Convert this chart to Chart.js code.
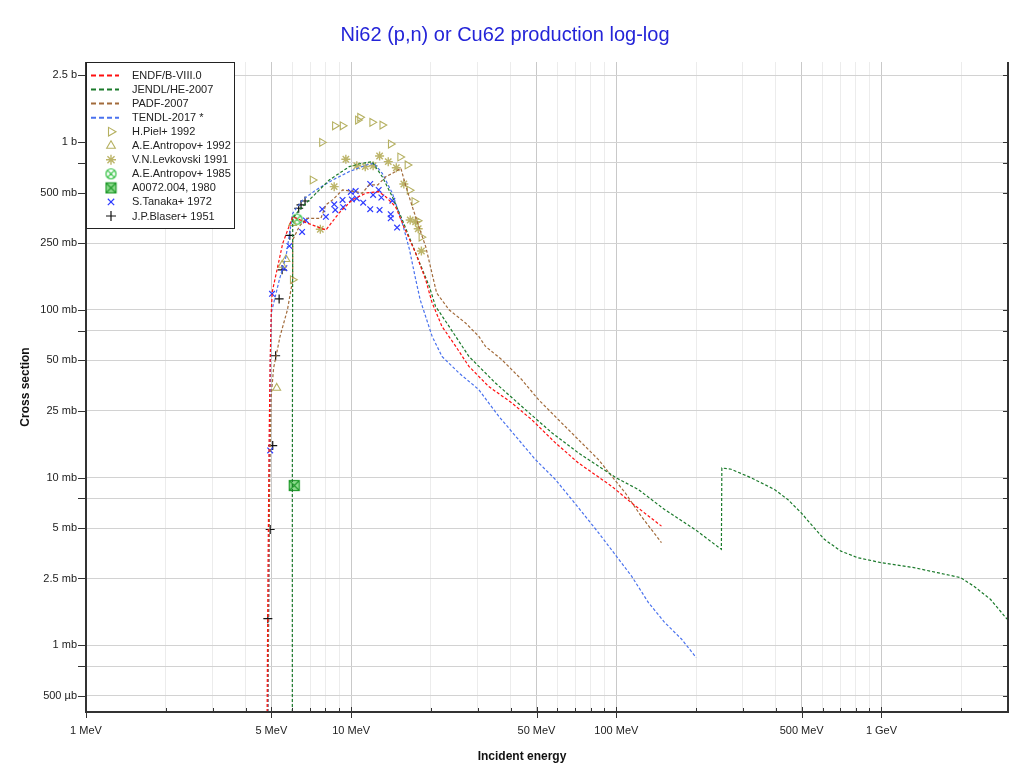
<!DOCTYPE html>
<html>
<head>
<meta charset="utf-8">
<script src="https://cdn.jsdelivr.net/npm/chart.js@4.4.0/dist/chart.umd.min.js"></script>
<style>
  html, body { margin: 0; padding: 0; background: #fff; }
  #wrap { width: 1020px; height: 773px; }
</style>
</head>
<body>
<div id="wrap"><canvas id="chart" width="1020" height="773"></canvas></div>
<script>
// axis ticks (energy in MeV, cross section in mb)
const xTickValues = [1, 2, 3, 4, 5, 6, 7, 8, 9, 10, 20, 30, 40, 50, 60, 70, 80, 90,
  100, 200, 300, 400, 500, 600, 700, 800, 900, 1000, 2000, 3000];
const xTickText = ['1 MeV', '', '', '', '5 MeV', '', '', '', '', '10 MeV', '', '', '', '50 MeV', '', '', '', '',
  '100 MeV', '', '', '', '500 MeV', '', '', '', '', '1 GeV', '', ''];
const yTickValues = [0.5, 0.75, 1, 2.5, 5, 7.5, 10, 25, 50, 75, 100, 250, 500, 750, 1000, 2500];
const yTickText = ['500 µb', '', '1 mb', '2.5 mb', '5 mb', '', '10 mb', '25 mb', '50 mb', '', '100 mb',
  '250 mb', '500 mb', '', '1 b', '2.5 b'];

// evaluated curves
const endfE = [4.82, 4.85, 4.9, 4.95, 5.0, 5.04, 5.52, 6.02, 6.85, 8.03, 9.01, 10.1, 11.4, 12.7, 13.5, 14.7,
  15.8, 17.5, 19.1, 20.2, 22.0, 24.8, 27.8, 33.0, 40.4, 48.0, 58.9, 72.0, 96.0, 114, 148];
const endfXs = [0.4, 2, 15, 50, 100, 128, 249, 359, 328, 299, 378, 452, 497, 506, 472, 412,
  313, 218, 151, 110, 79.6, 60.5, 46, 34.9, 27.8, 22.1, 16.1, 12.2, 8.87, 7.07, 5.13];

const jendlE = [6.0, 6.0, 6.02, 6.37, 7.14, 8.27, 9.83, 10.7, 12.0, 13.1, 14.3, 15.6, 17.5, 19.7, 20.8, 23.4,
  27.8, 35.0, 45.4, 57.1, 72.0, 93.3, 100, 121, 152, 198, 249, 250, 271, 323, 395, 443, 498, 543, 609,
  703, 812, 994, 1327, 1624, 1987, 2230, 2575, 2977];
const jendlXs = [0.4, 9, 350, 394, 471, 594, 713, 740, 764, 621, 472, 343, 218, 138, 105, 79.6,
  52.7, 36.6, 25.4, 18.5, 14.0, 10.7, 9.95, 8.48, 6.45, 4.90, 3.73, 11.4, 11.2, 9.95, 8.48, 7.40, 6.16, 5.25, 4.28,
  3.64, 3.33, 3.11, 2.90, 2.71, 2.53, 2.25, 1.88, 1.43];

const padfE = [4.85, 4.93, 4.99, 5.1, 5.4, 5.75, 6.02, 6.02, 6.37, 6.76, 7.69, 8.03, 8.51, 9.28, 10.4, 11.0,
  11.7, 12.6, 13.5, 14.3, 15.4, 16.1, 17.0, 18.0, 19.1, 19.9, 21.0, 23.4, 27.0, 30.3, 32.1, 37.0, 44.0,
  50.9, 60.5, 72.0, 85.6, 96.0, 108, 124, 148];
const padfXs = [0.4, 10, 30, 45, 70, 100, 151, 261, 313, 351, 351, 422, 452, 518, 506, 495,
  555, 555, 621, 651, 697, 542, 412, 313, 238, 181, 126, 100, 83.4, 69.4, 60.5, 50.4, 38.3,
  29.1, 22.1, 16.8, 12.8, 10.2, 8.11, 5.89, 4.09];

const tendlE = [4.86, 4.92, 4.96, 5.0, 5.36, 5.68, 6.02, 6.56, 7.37, 8.51, 9.83, 11.4, 12.2, 13.1, 14.3, 15.6,
  16.6, 17.4, 18.2, 20.2, 22.0, 25.5, 30.3, 36.0, 42.8, 49.5, 58.9, 67.9, 76.3, 85.6, 100, 114, 132,
  152, 176, 200];
const tendlXs = [0.4, 10, 50, 96, 151, 208, 376, 452, 518, 594, 666, 730, 747, 651, 495, 328,
  228, 159, 115, 69.4, 52.7, 42.0, 33.4, 23.2, 16.8, 12.8, 9.73, 7.40, 5.89, 4.69, 3.40, 2.59, 1.80,
  1.37, 1.09, 0.845];

// measurements
const pielE = [6.02, 7.15, 7.76, 8.68, 9.28, 10.6, 10.8, 12.0, 13.1, 14.1, 15.3, 16.3, 16.6, 17.3, 17.8, 18.4];
const pielXs = [151, 594, 995, 1250, 1250, 1352, 1403, 1310, 1262, 973, 814, 730, 516, 442, 339, 271];

const antropov92E = [5.24, 5.49, 5.68, 6.02];
const antropov92Xs = [34.2, 185, 200, 328];

const levkovskiE = [7.65, 8.63, 9.55, 10.5, 11.3, 12.1, 12.8, 13.8, 14.8, 15.8, 16.7, 17.5, 17.9, 18.4];
const levkovskiXs = [302, 542, 789, 722, 713, 722, 826, 764, 703, 562, 343, 335, 304, 224];

const antropov85E = [6.25];
const antropov85Xs = [347];

const a0072E = [6.1];
const a0072Xs = [8.96];

const tanakaE = [5.03, 4.95, 5.60, 5.85, 6.53, 6.75, 7.78, 8.03, 8.63, 8.71, 9.28, 9.33, 9.97, 10.06, 10.4,
  10.5, 11.1, 11.8, 11.8, 12.1, 12.7, 13.0, 12.8, 14.1, 14.1, 14.3, 14.9];
const tanakaXs = [124.5, 14.5, 177, 240, 291, 341, 398, 358, 425, 394, 452, 409, 504, 455, 511,
  461, 435, 562, 398, 484, 518, 467, 394, 371, 351, 447, 309];

const blaserE = [4.85, 4.95, 5.06, 5.19, 5.35, 5.49, 5.87, 6.34, 6.47, 6.70];
const blaserXs = [1.44, 4.90, 15.5, 53.2, 116, 173, 278, 403, 422, 445];

const pairs = (xs, ys) => xs.map((x, i) => ({ x, y: ys[i] }));

function markerCanvas(draw) {
  const c = document.createElement('canvas');
  c.width = 13;
  c.height = 13;
  draw(c.getContext('2d'));
  return c;
}

const circleX = markerCanvas((g) => {
  g.strokeStyle = '#2fbf3f';
  g.lineWidth = 1.2;
  g.beginPath();
  g.arc(6.5, 6.5, 5, 0, Math.PI * 2);
  g.moveTo(3.2, 3.2); g.lineTo(9.8, 9.8);
  g.moveTo(9.8, 3.2); g.lineTo(3.2, 9.8);
  g.stroke();
});

const squareX = markerCanvas((g) => {
  g.fillStyle = '#8fdc8f';
  g.fillRect(1.5, 1.5, 10, 10);
  g.strokeStyle = '#1f9a2a';
  g.lineWidth = 1.2;
  g.strokeRect(1.5, 1.5, 10, 10);
  g.beginPath();
  g.moveTo(2, 2); g.lineTo(11, 11);
  g.moveTo(11, 2); g.lineTo(2, 11);
  g.stroke();
});

const FONT = "'Liberation Sans', Arial, sans-serif";
Chart.defaults.font.family = FONT;

function curve(label, color, xs, ys) {
  return {
    label, data: pairs(xs, ys), showLine: true, borderColor: color, backgroundColor: color,
    borderWidth: 1.2, borderDash: [3, 2], pointRadius: 0, fill: false, tension: 0, kind: 'line',
  };
}

function points(label, color, xs, ys, style, extra) {
  return Object.assign({
    label, data: pairs(xs, ys), showLine: false, pointStyle: style, borderColor: color,
    pointBorderColor: color, pointBackgroundColor: 'rgba(0,0,0,0)', pointRadius: 4.5, pointBorderWidth: 1.1,
    kind: 'point',
  }, extra || {});
}

const datasets = [
  curve('ENDF/B-VIII.0', '#ff1010', endfE, endfXs),
  curve('JENDL/HE-2007', '#1b7a2b', jendlE, jendlXs),
  curve('PADF-2007', '#a26b3b', padfE, padfXs),
  curve('TENDL-2017 *', '#4a72ee', tendlE, tendlXs),
  points('H.Piel+ 1992', '#b5b060', pielE, pielXs, 'triangle', { pointRotation: 90 }),
  points('A.E.Antropov+ 1992', '#b5b060', antropov92E, antropov92Xs, 'triangle'),
  points('V.N.Levkovski 1991', '#bdb56a', levkovskiE, levkovskiXs, 'star', { pointRadius: 4.5, pointBorderWidth: 1.4 }),
  points('A.E.Antropov+ 1985', '#2fbf3f', antropov85E, antropov85Xs, circleX),
  points('A0072.004, 1980', '#1f9a2a', a0072E, a0072Xs, squareX),
  points('S.Tanaka+ 1972', '#2f3cff', tanakaE, tanakaXs, 'crossRot', { pointRadius: 4, pointBorderWidth: 1.2 }),
  points('J.P.Blaser+ 1951', '#111111', blaserE, blaserXs, 'cross', { pointRadius: 4.5, pointBorderWidth: 1.2 }),
];

const framePlugin = {
  id: 'frame',
  afterDraw(chart) {
    const { ctx, chartArea: a, scales: { x, y } } = chart;
    const seg = (x1, y1, x2, y2) => { ctx.beginPath(); ctx.moveTo(x1, y1); ctx.lineTo(x2, y2); ctx.stroke(); };
    ctx.save();
    ctx.strokeStyle = '#333';
    ctx.lineWidth = 1;
    y.ticks.forEach((t) => {
      const py = Math.round(y.getPixelForValue(t.value)) + 0.5;
      seg(a.left - 8, py, a.left, py);
      seg(a.right, py, a.right - 5, py);
    });
    x.ticks.forEach((t, i) => {
      const px = Math.round(x.getPixelForValue(t.value)) + 0.5;
      if (xTickText[i]) seg(px, a.bottom - 5, px, a.bottom + 6);
      else seg(px, a.bottom - 4, px, a.bottom);
    });
    ctx.lineWidth = 2;
    ctx.beginPath();
    ctx.moveTo(a.left, a.top);
    ctx.lineTo(a.left, a.bottom);
    ctx.lineTo(a.right, a.bottom);
    ctx.lineTo(a.right, a.top);
    ctx.stroke();

    // x axis title
    ctx.fillStyle = '#111';
    ctx.font = 'bold 12px ' + FONT;
    ctx.textAlign = 'center';
    ctx.textBaseline = 'middle';
    ctx.fillText('Incident energy', 522, 757);

    // legend
    const lx = a.left + 0.5, ly = a.top + 0.5, lw = 148, lh = 166;
    ctx.fillStyle = '#fff';
    ctx.fillRect(lx, ly, lw, lh);
    ctx.lineWidth = 1;
    ctx.strokeStyle = '#222';
    ctx.strokeRect(lx, ly, lw, lh);
    ctx.font = '11px ' + FONT;
    ctx.textAlign = 'left';
    chart.data.datasets.forEach((ds, i) => {
      const cy = a.top + 13.5 + i * 14.05;
      if (ds.kind === 'line') {
        ctx.strokeStyle = ds.borderColor;
        ctx.lineWidth = 2;
        ctx.setLineDash([5, 3]);
        seg(a.left + 5, cy, a.left + 33, cy);
        ctx.setLineDash([]);
      } else {
        ctx.strokeStyle = ds.pointBorderColor;
        ctx.fillStyle = 'rgba(0,0,0,0)';
        ctx.lineWidth = ds.pointBorderWidth;
        Chart.helpers.drawPoint(ctx, {
          pointStyle: ds.pointStyle, radius: ds.pointRadius + 0.5,
          rotation: ds.pointRotation || 0, borderWidth: ds.pointBorderWidth,
        }, a.left + 25, cy);
      }
      ctx.fillStyle = '#222';
      ctx.fillText(ds.label, a.left + 46, cy + 0.5);
    });
    ctx.restore();
  },
};

new Chart(document.getElementById('chart'), {
  type: 'scatter',
  data: { datasets },
  options: {
    responsive: false,
    animation: false,
    layout: { padding: { left: 0, right: 10, top: 0, bottom: 0 } },
    plugins: {
      legend: { display: false },
      tooltip: { enabled: false },
      title: {
        display: true,
        text: 'Ni62 (p,n) or Cu62 production log-log',
        color: '#2424d8',
        font: { size: 20, weight: 'normal', family: FONT },
        padding: { top: 23, bottom: 15 },
      },
    },
    scales: {
      x: {
        type: 'logarithmic',
        min: 1,
        max: 3000,
        afterBuildTicks: (s) => { s.ticks = xTickValues.map((v) => ({ value: v })); },
        afterFit: (s) => { s.height = 61; },
        border: { display: false },
        grid: {
          drawTicks: false,
          color: (c) => (xTickText[c.index] ? '#c9c9c9' : '#ececec'),
        },
        ticks: {
          autoSkip: false,
          maxRotation: 0,
          padding: 12,
          color: '#222',
          font: { size: 11 },
          callback: (v, i) => xTickText[i],
        },
      },
      y: {
        type: 'logarithmic',
        min: 0.4,
        max: 3000,
        afterBuildTicks: (s) => { s.ticks = yTickValues.map((v) => ({ value: v })); },
        afterFit: (s) => { s.width = 86; },
        border: { display: false },
        grid: { drawTicks: false, color: '#d2d2d2' },
        ticks: {
          autoSkip: false,
          padding: 9,
          color: '#222',
          font: { size: 11 },
          callback: (v, i) => yTickText[i],
        },
        title: {
          display: true,
          text: 'Cross section',
          color: '#111',
          font: { size: 12, weight: 'bold' },
          padding: { top: 18, bottom: 0 },
        },
      },
    },
  },
  plugins: [framePlugin],
});
</script>
</body>
</html>
